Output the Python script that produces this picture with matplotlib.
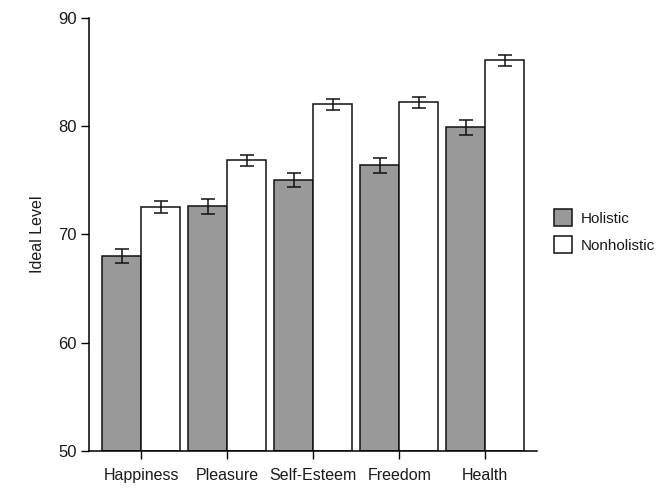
import matplotlib
matplotlib.use("Agg")
import matplotlib.pyplot as plt
import numpy as np

plt.rcParams['font.family'] = ["Liberation Sans", "DejaVu Sans"]

categories = ["Happiness", "Pleasure", "Self-Esteem", "Freedom", "Health"]
holistic = [68.0, 72.6, 75.0, 76.4, 79.9]
holistic_err = [0.62, 0.69, 0.65, 0.69, 0.69]
nonholistic = [72.5, 76.85, 82.05, 82.2, 86.1]
nonholistic_err = [0.55, 0.51, 0.51, 0.51, 0.51]
yticks = [50, 60, 70, 80, 90]

fig = plt.figure(figsize=(6.65, 4.97), dpi=100)
ax = fig.add_axes([0.1338, 0.0926, 0.807 - 0.1338, 0.9638 - 0.0926])

x = np.arange(len(categories))
w = 0.4535
err_kw = dict(ecolor="#111111", elinewidth=1.1, capsize=5, capthick=1.1)
ax.bar(x - w / 2, np.array(holistic) - 50, w, bottom=50, color="#999999",
       edgecolor="#111111", linewidth=1.1, yerr=holistic_err,
       error_kw=err_kw, label="Holistic")
ax.bar(x + w / 2, np.array(nonholistic) - 50, w, bottom=50, color="white",
       edgecolor="#111111", linewidth=1.1, yerr=nonholistic_err,
       error_kw=err_kw, label="Nonholistic")

ax.set_ylim(50, 90)
ax.set_xlim(-0.608, 4.598)
ax.set_yticks(yticks)
ax.set_xticks(x)
ax.set_xticklabels(categories, fontsize=11.5)
ax.tick_params(axis="y", labelsize=12, length=6, width=1, direction="out", pad=3,
               labelcolor="#1a1a1a")
ax.tick_params(axis="x", length=6, width=1, direction="out", pad=6,
               labelcolor="#1a1a1a")
for s in ["top", "right"]:
    ax.spines[s].set_visible(False)
for s in ["left", "bottom"]:
    ax.spines[s].set_linewidth(1.1)
ax.set_ylabel("Ideal Level", fontsize=11.5, labelpad=9, color="#1a1a1a")

fig.legend(loc="upper left", bbox_to_anchor=(0.812, 0.607), frameon=False,
           fontsize=11, handlelength=1.2, handleheight=1.3, handletextpad=0.6,
           labelspacing=0.7, labelcolor="#1a1a1a")

fig.savefig("out.png", dpi=100)
